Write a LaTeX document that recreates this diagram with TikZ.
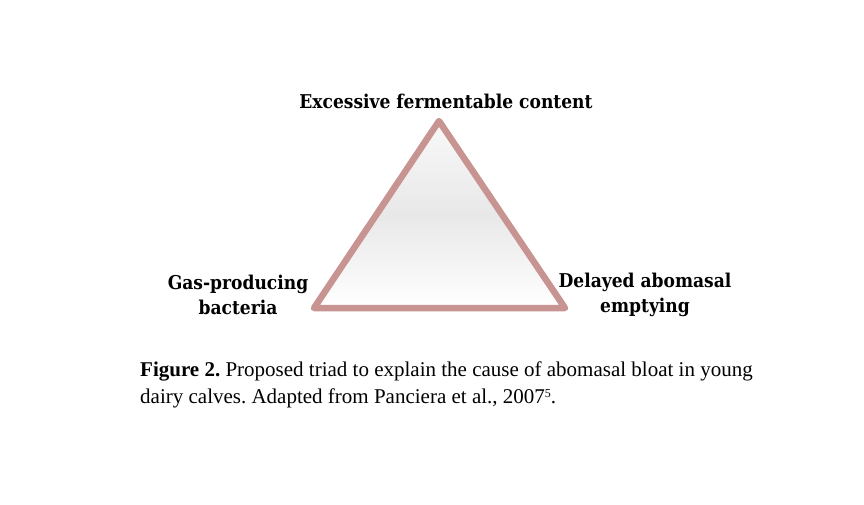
\documentclass[tikz,border=0pt]{standalone}
\usepackage{fontspec}
\setmainfont{Liberation Serif}
\newfontfamily\labfont{DejaVu Serif Condensed}
\frenchspacing
\begin{document}
\begin{tikzpicture}[x=1pt,y=-1pt,
  lab/.style={font=\labfont\bfseries\fontsize{19}{25}\selectfont,align=center,inner sep=0pt},
  captext/.style={font=\fontsize{21}{27}\selectfont,align=left,anchor=north west,inner sep=0pt}]
\definecolor{edge}{RGB}{200,148,146}
\useasboundingbox (0,0) rectangle (864,504);
\fill[white] (0,0) rectangle (864,504);
\coordinate (A) at (439,121);
\coordinate (B) at (314,308);
\coordinate (C) at (565,308);
\shade[top color=gray!5, bottom color=white, middle color=gray!18] (A) -- (B) -- (C) -- cycle;
\draw[edge, line width=6.5pt, line join=round] (A) -- (B) -- (C) -- cycle;
\node[lab] (top) at (446,101) {Excessive fermentable content};
\node[lab] (left) at (238,295) {Gas-producing\\bacteria};
\node[lab] (right) at (645,295) {Delayed abomasal\\emptying};
\node[captext] (caption) at (140,362) {\textbf{Figure 2.} Proposed triad to explain the cause of abomasal bloat in young\\dairy calves. Adapted from Panciera et al., 2007\raisebox{6.5pt}{\fontsize{12}{12}\selectfont 5}.};
\end{tikzpicture}
\end{document}
